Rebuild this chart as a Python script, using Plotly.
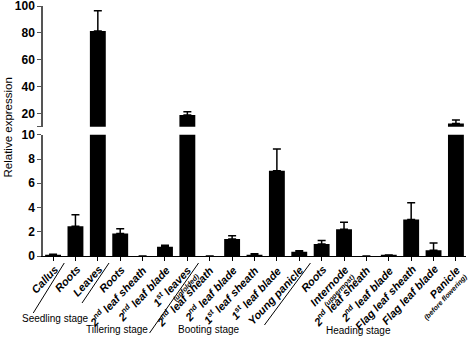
import plotly.graph_objects as go

# ---------------- data ----------------
tick_main = [
    "Callus", "Roots", "Leaves",
    "Roots", "2<sup>nd</sup> leaf sheath", "2<sup>nd</sup> leaf blade", "1<sup>st</sup> leaves",
    "2<sup>nd</sup> leaf sheath", "2<sup>nd</sup> leaf blade", "1<sup>st</sup> leaf sheath",
    "1<sup>st</sup> leaf blade", "Young panicle",
    "Roots", "Internode", "2<sup>nd</sup> leaf sheath", "2<sup>nd</sup> leaf blade",
    "Flag leaf sheath", "Flag leaf blade", "Panicle",
]
tick_sub = ["", "", "", "", "", "", "(unfolded)", "", "", "", "", "",
            "", "(uppermost)", "", "", "", "", "(before flowering)"]
values = [0.1, 2.45, 81.3, 1.85, 0, 0.77, 18.7, 0, 1.4, 0.1, 7.03, 0.36,
          1.0, 2.2, 0, 0.05, 3.02, 0.47, 12.5]
errors = [0.05, 0.95, 15.1, 0.4, 0, 0.11, 2.5, 0, 0.27, 0.08, 1.8, 0.08,
          0.27, 0.58, 0, 0.03, 1.37, 0.6, 2.5]
lower_ticks = [0, 2, 4, 6, 8, 10]
upper_ticks = [10, 20, 40, 60, 80, 100]
upper_ticktext = ["", "20", "40", "60", "80", "100"]
stages = ["Seedling stage", "Tillering stage", "Booting stage", "Heading stage"]
stage_bounds = [0.5, 2.5, 6.5, 11.5]   # separators between categories

# ---------------- layout geometry ----------------
W, H = 472, 338
ML, MR, MT, MB = 43, 6, 6, 82
PW, PH = W - ML - MR, H - MT - MB
XR = [-0.45, 18.45]
UNIT = PW / (XR[1] - XR[0])
pos = list(range(len(values)))


def px(xp):
    return (xp - ML) / PW


def py(yp):
    return (H - MB - yp) / PH


def cat_px(c):
    return ML + (c - XR[0]) * UNIT


fig = go.Figure()
for yax in ["y", "y2"]:
    fig.add_trace(go.Bar(
        x=pos, y=values, yaxis=yax, width=0.71,
        marker=dict(color="black", line=dict(width=0)),
        error_y=dict(type="data", symmetric=False, array=errors,
                     arrayminus=[0] * len(values), color="black",
                     thickness=1.5, width=4),
        showlegend=False,
    ))

tickfont_y = dict(family="Liberation Sans, Arial", size=12, color="black", weight="bold")

fig.update_layout(
    width=W, height=H,
    margin=dict(l=ML, r=MR, t=MT, b=MB, autoexpand=False),
    paper_bgcolor="white", plot_bgcolor="white",
    barmode="overlay",
    xaxis=dict(range=XR, tickvals=pos, showticklabels=False, automargin=False,
               ticks="outside", ticklen=4, tickcolor="black", tickwidth=1,
               showline=True, linecolor="black", linewidth=1.2,
               showgrid=False, zeroline=False, anchor="y"),
    yaxis=dict(domain=[0, 0.485], range=[0, 10], tickvals=lower_ticks, automargin=False,
               ticks="outside", ticklen=4, tickcolor="#555", tickwidth=1.2,
               showline=True, linecolor="#555", linewidth=1.5, ticklabeloverflow="allow",
               showgrid=False, zeroline=False, tickfont=tickfont_y),
    yaxis2=dict(domain=[0.517, 1], range=[10, 100], tickvals=upper_ticks,
                ticktext=upper_ticktext, anchor="x", automargin=False,
                ticks="outside", ticklen=4, tickcolor="#555", tickwidth=1.2,
                showline=True, linecolor="#555", linewidth=1.5, ticklabeloverflow="allow",
                showgrid=False, zeroline=False, tickfont=tickfont_y),
)

# category labels (rotated)
for p, main, sub in zip(pos, tick_main, tick_sub):
    tx = cat_px(p)
    fig.add_annotation(text="<b><i>%s</i></b>" % main, xref="paper", yref="paper",
                       x=px(tx + 8), y=py(262),
                       textangle=-47, showarrow=False, xanchor="right", yanchor="top",
                       borderpad=0,
                       font=dict(family="Liberation Sans, Arial", size=11, color="black"))
    if sub:
        fig.add_annotation(text="<b><i>%s</i></b>" % sub, xref="paper", yref="paper",
                           x=px(tx + 15), y=py(271),
                           textangle=-47, showarrow=False, xanchor="right", yanchor="top",
                           borderpad=0,
                           font=dict(family="Liberation Sans, Arial", size=7, color="black"))

# y title
fig.add_annotation(text="Relative expression", xref="paper", yref="paper",
                   x=px(7), y=py(127.5), textangle=-90, showarrow=False,
                   font=dict(family="Liberation Sans, Arial", size=11.5, color="black"),
                   xanchor="center", yanchor="middle")

# stage separator lines (diagonal)
line_ends = [(-31, 50), (-27, 40), (-49, 70), (-46, 62)]
for b, (dx, dy) in zip(stage_bounds, line_ends):
    x0 = cat_px(b)
    y0 = 263
    fig.add_shape(type="line", xref="paper", yref="paper",
                  x0=px(x0), y0=py(y0), x1=px(x0 + dx), y1=py(y0 + dy),
                  line=dict(color="black", width=1))

# stage labels
stage_pos = [(55.5, 318), (117, 329), (209, 329), (358.5, 330)]
for s, (sx, sy) in zip(stages, stage_pos):
    fig.add_annotation(text=s, xref="paper", yref="paper", x=px(sx), y=py(sy),
                       showarrow=False, xanchor="center", yanchor="middle",
                       font=dict(family="Liberation Sans, Arial", size=10, color="black"))

fig.write_html("out.html", config={"displayModeBar": False},
               post_script="document.body.style.margin='0px';document.body.style.padding='0px';")
